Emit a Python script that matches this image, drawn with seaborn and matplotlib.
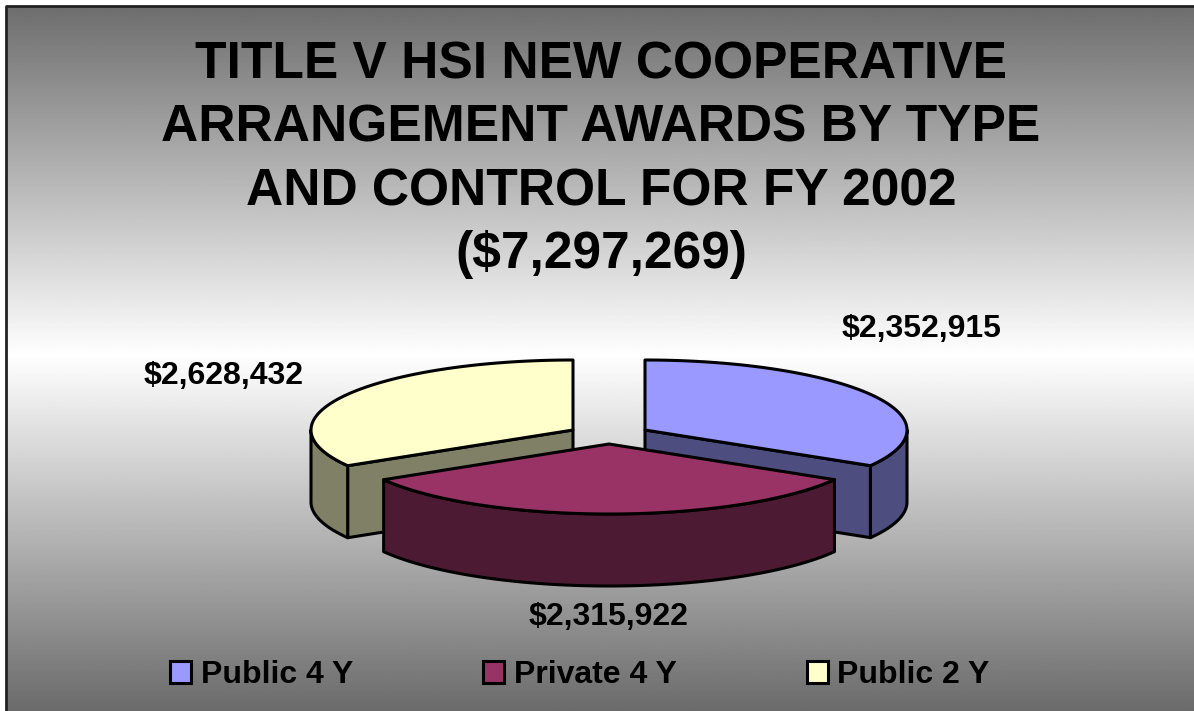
import numpy as np
import seaborn as sns
import matplotlib.pyplot as plt
from matplotlib.patches import Patch, Polygon

# Data
labels = ['Public 4 Y', 'Private 4 Y', 'Public 2 Y']
awards = [2352915, 2315922, 2628432]
award_labels = ['$2,352,915', '$2,315,922', '$2,628,432']
title = 'TITLE V HSI NEW COOPERATIVE\nARRANGEMENT AWARDS BY TYPE\nAND CONTROL FOR FY 2002\n($7,297,269)'

sns.set_style('white')
plt.rcParams['font.family'] = ['Liberation Sans', 'DejaVu Sans']
colors = sns.color_palette(['#9999FF', '#993366', '#FFFFCC'])
darks = [tuple(c * 0.5 for c in col) for col in colors]

# Layout, in pixels of the picture
apex = [(645, 430), (609, 444), (573, 430)]
label_pos = [(922, 329), (609, 617), (224, 376)]
rx, ry, depth = 262, 70, 72

fig = plt.figure(figsize=(11.94, 7.11), dpi=100, facecolor='white')
ax = fig.add_axes([0, 0, 1, 1])
ax.set_xlim(0, 1194)
ax.set_ylim(711, 0)
ax.axis('off')

# Background gradient, dark - white - dark
rows = np.linspace(6, 711, 400)
shade = np.interp(rows, [6, 355, 711], [0.43, 1.0, 0.42])
ax.imshow(shade[:, None], cmap='gray', vmin=0, vmax=1, aspect='auto',
          extent=(6, 1194, 711, 6), zorder=0)
ax.set_xlim(0, 1194)
ax.set_ylim(711, 0)
ax.plot([6, 6, 1194], [711, 6, 6], color='#222222', lw=2, zorder=1)


def view_angle(deg):
    # slice angle as it looks on the tilted pie
    rad = np.radians(deg)
    return deg + 7.9 * np.sin(rad / 2) - 2.4 * np.sin(rad)


def rim(center, start, end, drop=0):
    phi = np.radians(view_angle(np.linspace(start, end, 120)))
    return np.column_stack([center[0] + rx * np.sin(phi),
                            center[1] - ry * np.cos(phi) + drop])


# angles where the rim turns out of sight
grid = np.linspace(0, 360, 3601)
rim_from = np.interp(90, view_angle(grid), grid)
rim_to = np.interp(270, view_angle(grid), grid)


def draw_slice(i, start, end, z):
    c = apex[i]
    edge = dict(edgecolor='black', lw=2.2, joinstyle='round', zorder=z)
    # cut wall on the side of the slice that faces the viewer
    if i != 1:
        p = rim(c, end, end)[0] if i == 0 else rim(c, start, start)[0]
        wall = [c, p, (p[0], p[1] + depth), (c[0], c[1] + depth)]
        ax.add_patch(Polygon(wall, facecolor=darks[i], **edge))
    # outer rim, only the front half of the pie shows
    a, b = max(start, rim_from), min(end, rim_to)
    ax.add_patch(Polygon(np.vstack([rim(c, a, b), rim(c, a, b, depth)[::-1]]),
                         facecolor=darks[i], **edge))
    # top face
    ax.add_patch(Polygon(np.vstack([[c], rim(c, start, end)]),
                         facecolor=colors[i], **edge))


shares = np.array(awards) / sum(awards) * 360
ends = np.cumsum(shares)
starts = ends - shares
for i, z in zip([0, 2, 1], [2, 3, 4]):
    draw_slice(i, starts[i], ends[i], z)

for txt, (x, y) in zip(award_labels, label_pos):
    ax.text(x, y, txt, fontsize=23, fontweight='bold', ha='center', va='center', color='black', zorder=6)

ax.text(601, 160, title, fontsize=37.1, fontweight='bold', ha='center', va='center',
        linespacing=1.37, color='black', zorder=6)

handles = [Patch(facecolor=col, edgecolor='black', lw=2.2, label=lab) for col, lab in zip(colors, labels)]
ax.legend(handles=handles, ncol=3, frameon=False, loc='center', bbox_to_anchor=(580, 675),
          bbox_transform=ax.transData, prop={'size': 23, 'weight': 'bold'},
          handlelength=0.66, handleheight=0.66, handletextpad=0.3, columnspacing=4.07,
          labelcolor='black', borderpad=0, borderaxespad=0)

fig.savefig('out.png', dpi=100, facecolor='white')
